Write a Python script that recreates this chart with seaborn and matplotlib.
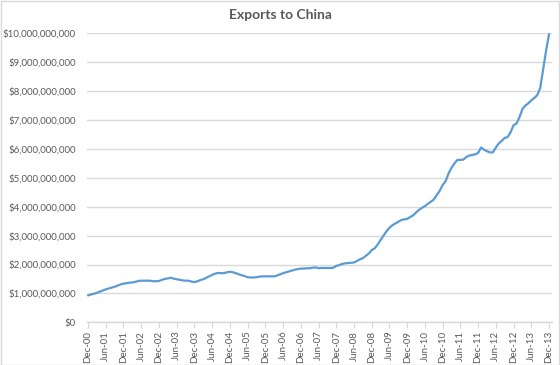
import matplotlib
matplotlib.use("Agg")
import matplotlib.pyplot as plt
import seaborn as sns
import pandas as pd
from matplotlib.ticker import FuncFormatter, FixedLocator
from matplotlib.patches import Rectangle

# Monthly exports to China, Dec-00 .. Dec-13, in billions of dollars
exports_bn = [
    0.93, 0.96, 0.99, 1.02, 1.06, 1.10, 1.14, 1.17, 1.20, 1.23, 1.27, 1.31,
    1.34, 1.35, 1.37, 1.38, 1.40, 1.43, 1.44, 1.44, 1.44, 1.44, 1.42, 1.42,
    1.43, 1.47, 1.50, 1.52, 1.54, 1.51, 1.49, 1.47, 1.45, 1.44, 1.44, 1.41,
    1.39, 1.42, 1.46, 1.49, 1.54, 1.59, 1.64, 1.68, 1.71, 1.70, 1.70, 1.73,
    1.75, 1.73, 1.70, 1.66, 1.63, 1.60, 1.56, 1.55, 1.55, 1.56, 1.58, 1.59,
    1.59, 1.59, 1.59, 1.59, 1.62, 1.66, 1.70, 1.73, 1.76, 1.79, 1.82, 1.84,
    1.86, 1.86, 1.87, 1.87, 1.89, 1.90, 1.87, 1.88, 1.88, 1.88, 1.88, 1.89,
    1.95, 1.98, 2.02, 2.04, 2.05, 2.06, 2.07, 2.12, 2.18, 2.22, 2.30, 2.38,
    2.50, 2.56, 2.69, 2.85, 3.00, 3.15, 3.27, 3.36, 3.42, 3.48, 3.54, 3.56,
    3.58, 3.64, 3.70, 3.80, 3.89, 3.96, 4.02, 4.10, 4.17, 4.25, 4.40, 4.55,
    4.75, 4.88, 5.15, 5.35, 5.50, 5.62, 5.62, 5.63, 5.72, 5.77, 5.79, 5.81,
    5.86, 6.05, 5.97, 5.92, 5.88, 5.88, 6.05, 6.19, 6.28, 6.38, 6.41, 6.58,
    6.82, 6.88, 7.10, 7.38, 7.50, 7.58, 7.68, 7.76, 7.86, 8.10, 8.75, 9.40,
    9.97,
]
month_index = list(range(len(exports_bn)))
tick_labels = [
    "Dec-00", "Jun-01", "Dec-01", "Jun-02", "Dec-02", "Jun-03", "Dec-03",
    "Jun-04", "Dec-04", "Jun-05", "Dec-05", "Jun-06", "Dec-06", "Jun-07",
    "Dec-07", "Jun-08", "Dec-08", "Jun-09", "Dec-09", "Jun-10", "Dec-10",
    "Jun-11", "Dec-11", "Jun-12", "Dec-12", "Jun-13", "Dec-13",
]
y_ticks = [0, 1e9, 2e9, 3e9, 4e9, 5e9, 6e9, 7e9, 8e9, 9e9, 10e9]
title = "Exports to China"

df = pd.DataFrame({"month": month_index,
                   "value": [v * 1e9 for v in exports_bn]})

sns.set_theme(style="white")
plt.rcParams["font.family"] = ["Lato", "DejaVu Sans"]
text_color = "#595959"
grid_color = "#d9d9d9"

fig = plt.figure(figsize=(5.6, 3.65), dpi=100)
ax = fig.add_axes([87 / 560, 1 - 322.3 / 365, (552 - 87) / 560, (322.3 - 33.3) / 365])

sns.lineplot(data=df, x="month", y="value", ax=ax, color="#5b9bd5", linewidth=1.6)

ax.set_xlim(-0.35, 157.0)
ax.set_ylim(0, 10e9)
ax.yaxis.set_major_locator(FixedLocator(y_ticks))
ax.yaxis.set_major_formatter(FuncFormatter(lambda v, p: "${:,.0f}".format(v)))
ax.set_xticks(list(range(0, len(exports_bn), 6)))
ax.set_xticklabels(tick_labels, rotation=90)

ax.grid(axis="y", color=grid_color, linewidth=1.0)
ax.set_axisbelow(True)
for s in ["top", "right", "left"]:
    ax.spines[s].set_visible(False)
ax.spines["bottom"].set_color(grid_color)
ax.spines["bottom"].set_linewidth(1.0)
ax.tick_params(axis="x", colors=text_color, labelsize=7, length=4, width=0.8,
               color=grid_color, direction="out", bottom=True, pad=2)
ax.tick_params(axis="y", colors=text_color, labelsize=7, length=0, pad=8)
ax.set_xlabel("")
ax.set_ylabel("")

fig.text(0.5, 1 - 15 / 365, title, ha="center", va="center",
         fontsize=10, fontweight="bold", color=text_color)

fig.patches.append(Rectangle((0.5 / 560, 0.5 / 365), 558.5 / 560, 363.5 / 365,
                             transform=fig.transFigure, fill=False,
                             edgecolor=grid_color, linewidth=1.0))

fig.savefig("out.png", dpi=100)
